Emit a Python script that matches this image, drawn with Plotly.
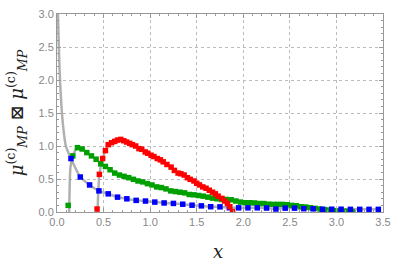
import plotly.graph_objects as go

# ---- data ----
blue_x = [0.15, 0.25, 0.35, 0.45, 0.55, 0.65, 0.75, 0.85, 0.95, 1.05, 1.15, 1.25, 1.35, 1.45,
          1.55, 1.65, 1.75, 1.85, 1.95, 2.05, 2.15, 2.25, 2.35, 2.45, 2.55, 2.65, 2.75, 2.85,
          2.95, 3.05, 3.15, 3.25, 3.35, 3.45]
blue_y = [0.81, 0.53, 0.41, 0.32, 0.275, 0.225, 0.20, 0.176, 0.166, 0.15, 0.137, 0.13, 0.118, 0.103,
          0.093, 0.08, 0.078, 0.065, 0.063, 0.063, 0.063, 0.06, 0.045, 0.058, 0.058, 0.05, 0.048, 0.042,
          0.042, 0.042, 0.04, 0.04, 0.04, 0.04]

green_x = [0.12, 0.17, 0.22, 0.27, 0.32, 0.37, 0.42, 0.47, 0.52, 0.57, 0.62, 0.67, 0.72, 0.77,
           0.82, 0.87, 0.92, 0.97, 1.02, 1.07, 1.12, 1.17, 1.22, 1.27, 1.32, 1.37, 1.42, 1.47,
           1.52, 1.57, 1.62, 1.67, 1.72, 1.77, 1.82, 1.87, 1.92, 1.97, 2.02, 2.07, 2.12, 2.17,
           2.22, 2.27, 2.32, 2.37, 2.42, 2.47, 2.52, 2.57, 2.62, 2.67, 2.72, 2.77, 2.82, 2.87,
           2.92, 2.97, 3.02, 3.07, 3.12, 3.17]
green_y = [0.10, 0.85, 0.975, 0.955, 0.90, 0.85, 0.80, 0.73, 0.69, 0.64, 0.59, 0.56, 0.54, 0.52,
           0.495, 0.47, 0.456, 0.43, 0.41, 0.38, 0.37, 0.35, 0.32, 0.31, 0.30, 0.29, 0.265, 0.26,
           0.25, 0.24, 0.225, 0.21, 0.20, 0.19, 0.19, 0.185, 0.166, 0.15, 0.14, 0.14, 0.137, 0.128,
           0.128, 0.118, 0.115, 0.115, 0.115, 0.11, 0.10, 0.095, 0.08, 0.075, 0.065, 0.055, 0.045, 0.035,
           0.03, 0.02, 0.015, 0.01, 0.01, 0.005]

red_x = [0.43, 0.455, 0.49, 0.52, 0.55, 0.586, 0.62, 0.65, 0.684, 0.716, 0.747, 0.78, 0.81, 0.845,
         0.88, 0.91, 0.947, 0.975, 1.01, 1.04, 1.077, 1.11, 1.14, 1.18, 1.225, 1.26, 1.30, 1.33,
         1.365, 1.40, 1.43, 1.47, 1.50, 1.53, 1.565, 1.60, 1.635, 1.67, 1.70, 1.73, 1.77, 1.80,
         1.83, 1.855, 1.885]
red_y = [0.045, 0.57, 0.81, 0.93, 1.02, 1.05, 1.07, 1.09, 1.10, 1.08, 1.06, 1.04, 1.02, 1.00,
         0.96, 0.95, 0.91, 0.89, 0.86, 0.84, 0.81, 0.79, 0.76, 0.72, 0.68, 0.63, 0.59, 0.58,
         0.56, 0.52, 0.495, 0.47, 0.435, 0.41, 0.38, 0.36, 0.33, 0.30, 0.275, 0.24, 0.206, 0.166,
         0.13, 0.08, 0.005]

blue_curve_head_x = [0.0105, 0.017, 0.028, 0.053, 0.077, 0.095]
blue_curve_head_y = [3.0, 2.63, 2.14, 1.5, 1.16, 1.0]
green_curve_head_x = [0.13, 0.133, 0.144]
green_curve_head_y = [0.0, 0.18, 0.67]
red_curve_head_x = [0.435]
red_curve_head_y = [0.0]

x_ticks = [0.0, 0.5, 1.0, 1.5, 2.0, 2.5, 3.0, 3.5]
y_ticks = [0.0, 0.5, 1.0, 1.5, 2.0, 2.5, 3.0]

GRAY = "rgba(150,150,150,0.75)"

fig = go.Figure()

curves = [
    (blue_curve_head_x + blue_x, blue_curve_head_y + blue_y),
    (green_curve_head_x + green_x[1:], green_curve_head_y + green_y[1:]),
    (red_curve_head_x + red_x[1:], red_curve_head_y + red_y[1:]),
]
for cx, cy in curves:
    fig.add_trace(go.Scatter(x=cx, y=cy, mode="lines",
                             line=dict(color=GRAY, width=2.5, shape="spline", smoothing=0.6),
                             hoverinfo="skip", showlegend=False))

for xs, ys, col in [(green_x, green_y, "#00a000"),
                    (blue_x, blue_y, "#0000ff"),
                    (red_x, red_y, "#ff0000")]:
    fig.add_trace(go.Scatter(x=xs, y=ys, mode="markers",
                             marker=dict(symbol="square", size=5.5, color=col, line=dict(width=0)),
                             showlegend=False))

axis_common = dict(
    showline=True, linecolor="#999999", linewidth=1, mirror="ticks",
    ticks="inside", ticklen=4, tickcolor="#999999",
    showgrid=True, gridcolor="#bbbbbb", griddash="dot", gridwidth=1,
    zeroline=False, tickformat=".1f",
    tickfont=dict(family="Liberation Sans", size=11, color="#888888"),
)

fig.update_xaxes(range=[0, 3.5], tickvals=x_ticks,
                 minor=dict(dtick=0.1, ticks="inside", ticklen=2, tickcolor="#999999", showgrid=False),
                 **axis_common)
fig.update_yaxes(range=[0, 3.0], tickvals=y_ticks,
                 minor=dict(dtick=0.1, ticks="inside", ticklen=2, tickcolor="#999999", showgrid=False),
                 **axis_common)

fig.update_layout(
    width=399, height=267,
    margin=dict(l=57, r=9, t=8, b=55),
    paper_bgcolor="white", plot_bgcolor="white",
    annotations=[
        dict(text="<i>x</i>", xref="paper", yref="paper", x=0.495, y=-0.2,
             showarrow=False, font=dict(family="DejaVu Serif", size=18, color="#222222"),
             xanchor="center", yanchor="middle"),
        dict(text="<i>μ</i><sup>(c)</sup><sub><i>MP</i></sub> ⊠ <i>μ</i><sup>(c)</sup><sub><i>MP</i></sub>",
             xref="paper", yref="paper", x=-0.125, y=0.5, textangle=-90,
             showarrow=False, font=dict(family="DejaVu Serif", size=18, color="#222222"),
             xanchor="center", yanchor="middle"),
    ],
)

fig.write_html("out.html", config={"displayModeBar": False, "staticPlot": True},
               post_script="document.body.style.margin='0px';document.body.style.padding='0px';")
